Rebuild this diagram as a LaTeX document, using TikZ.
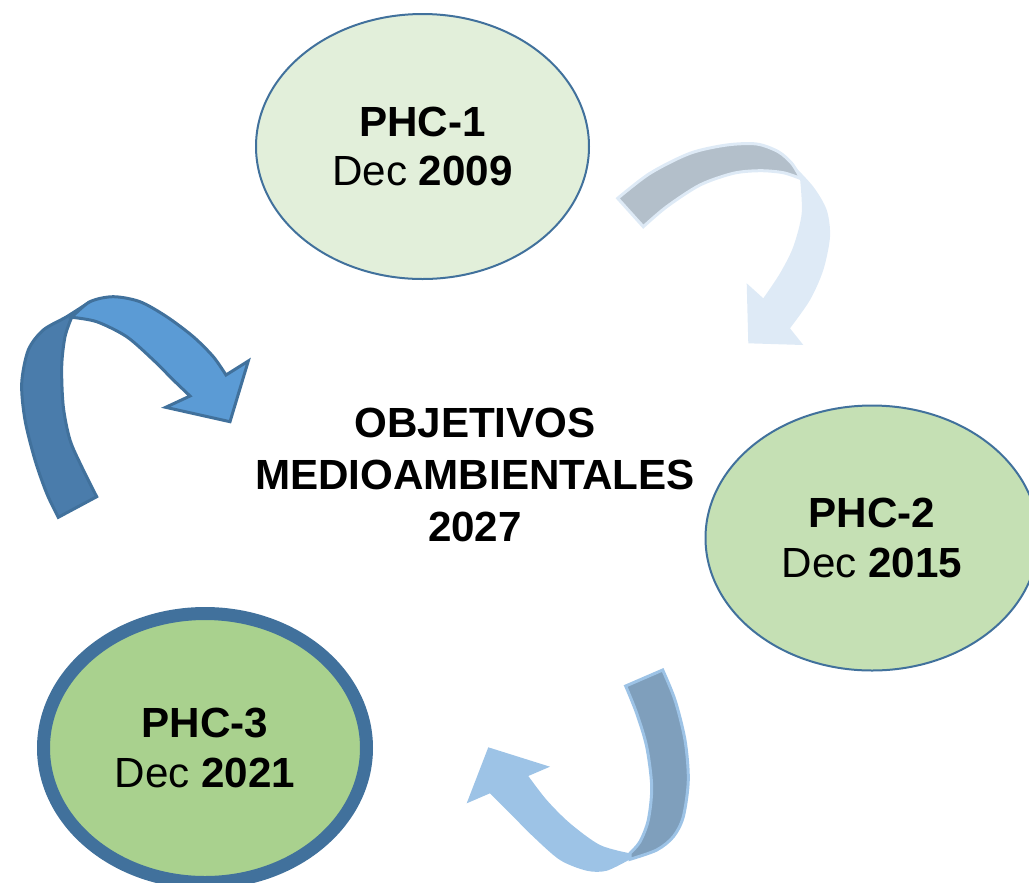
\documentclass[tikz,border=0pt]{standalone}
\usepackage{fontspec}
\setmainfont{Liberation Sans}
\usepackage{xcolor}
\usepackage{tikz}
\usetikzlibrary{shapes.geometric}

\definecolor{rim}{HTML}{41719C}
\definecolor{phcone}{HTML}{E2EFDA}
\definecolor{phctwo}{HTML}{C5E0B4}
\definecolor{phcthree}{HTML}{A9D18E}
\definecolor{foldone}{HTML}{B3BFCA}
\definecolor{tipone}{HTML}{DEEAF6}
\definecolor{foldtwo}{HTML}{7F9FBC}
\definecolor{tiptwo}{HTML}{9DC3E6}
\definecolor{foldthree}{HTML}{4A7CAB}
\definecolor{tipthree}{HTML}{5B9BD5}

\begin{document}
\begin{tikzpicture}[x=0.1mm, y=-0.1mm,
    phc/.style={ellipse, draw=rim, inner sep=0pt, align=center, font=\fontsize{12}{14.2}\selectfont}]
            \clip (0,0) rectangle (1029,882);
            % curved arrows: back strip first, then the head on top
            \filldraw[fill=foldone, draw=tipone, line width=0.3mm]
              plot[smooth] coordinates {(617.7,198.3) (650,173.3) (690,153.3) (726.7,145) (756.7,144) (778.3,151.7) (791.7,163.3) (800,176.7)}
              -- plot[smooth] coordinates {(800,178.3) (783.3,172.7) (760,170.7) (733.3,173.3) (700,185) (666.7,206.7) (643.3,226.7)}
              -- cycle;
            \fill[tipone]
              plot[smooth] coordinates {(791.7,163.3) (813.3,186.7) (826.7,210) (830,236.7) (823.3,270) (810,300) (790,328.3)}
              -- (803.3,345) -- (748.3,343.3) -- (746.7,283.3)
              -- plot[smooth] coordinates {(763.3,298.3) (780,273.3) (793.3,246.7) (801.7,213.3) (800,178.3)}
              -- cycle;
            \filldraw[fill=foldtwo, draw=tiptwo, line width=0.3mm]
              plot[smooth] coordinates {(662.7,670) (675,700) (685,740) (688.3,780) (683.3,816.7) (673.3,836.7) (656.7,850) (630,859.3)}
              -- plot[smooth] coordinates {(630,853.3) (640,841.7) (648.3,820) (651.7,786.7) (646.7,746.7) (636.7,713.3) (625.7,686)}
              -- cycle;
            \fill[tiptwo]
              plot[smooth] coordinates {(630,859.3) (606.7,870.7) (586.7,870.7) (560,860) (533.3,836.7) (510,813.3) (490,793.3)}
              -- (466.7,803.3) -- (488.3,747.3) -- (550,766.7)
              -- plot[smooth] coordinates {(528.3,776) (546.7,800) (570,823.3) (600,845) (630,853.3)}
              -- cycle;
            \filldraw[fill=foldthree, draw=rim, line width=0.3mm]
              plot[smooth] coordinates {(58.3,517.3) (46.7,493.3) (35,460) (25,420) (21.7,383.3) (28.3,350) (43.3,330) (66.7,316.7) (90,301.7)}
              -- plot[smooth] coordinates {(71.7,317.3) (65,336.7) (61.7,366.7) (63.3,406.7) (70,440) (81.7,466.7) (96.7,496.7)}
              -- cycle;
            \filldraw[fill=tipthree, draw=rim, line width=0.3mm]
              plot[smooth] coordinates {(71.7,317.3) (90,301.7) (113.3,296.7) (140,301.7) (166.7,316.7) (193.3,336.7) (213.3,356.7) (226,375)}
              -- (248.3,361) -- (230,421.7) -- (165.7,407.3)
              -- plot[smooth] coordinates {(190,396) (173.3,380) (153.3,360) (126.7,336.7) (96.7,321.7) (71.7,317.3)}
              -- cycle;
            % the three plans
            \node[phc, fill=phcone, line width=0.2mm, minimum width=33.3mm, minimum height=26.5mm] (phc1) at (422.5,146.5) {\textbf{PHC-1}\\Dec \textbf{2009}};
            \node[phc, fill=phctwo, line width=0.2mm, minimum width=33.3mm, minimum height=26.5mm] (phc2) at (872,538) {\textbf{PHC-2}\\Dec \textbf{2015}};
            \node[phc, fill=phcthree, line width=1.3mm, minimum width=32.3mm, minimum height=26.9mm] (phc3) at (205,748) {\textbf{PHC-3}\\Dec \textbf{2021}};
            \node[align=center, font=\fontsize{12}{14.7}\selectfont\bfseries] (goal) at (475,475) {OBJETIVOS\\MEDIOAMBIENTALES\\2027};
          \end{tikzpicture}
\end{document}
